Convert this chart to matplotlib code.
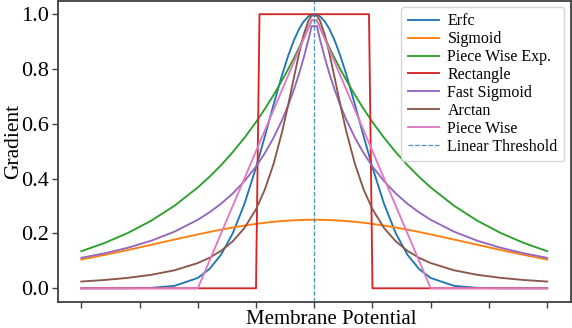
import matplotlib
matplotlib.use("Agg")
import matplotlib.pyplot as plt

plt.rcParams['font.family'] = 'serif'
plt.rcParams['font.serif'] = ['Liberation Serif', 'DejaVu Serif']

# shared sample positions for the smooth curves
x_grid = [-4.0, -3.6, -3.2, -2.8, -2.4, -2.0, -1.8, -1.6, -1.4, -1.2,
          -1.0, -0.85, -0.7, -0.55, -0.45, -0.35, -0.26, -0.18, -0.1, -0.045,
          0.045, 0.1, 0.18, 0.26, 0.35, 0.45, 0.55, 0.7, 0.85, 1.0,
          1.2, 1.4, 1.6, 1.8, 2.0, 2.4, 2.8, 3.2, 3.6, 4.0]

erfc = [0.0000, 0.0000, 0.0002, 0.0016, 0.0089, 0.0376, 0.0702, 0.1226, 0.2005, 0.3070,
        0.4404, 0.5530, 0.6691, 0.7803, 0.8470, 0.9044, 0.9461, 0.9738, 0.9918, 0.9983,
        0.9983, 0.9918, 0.9738, 0.9461, 0.9044, 0.8470, 0.7803, 0.6691, 0.5530, 0.4404,
        0.3070, 0.2005, 0.1226, 0.0702, 0.0376, 0.0089, 0.0016, 0.0002, 0.0000, 0.0000]

sigmoid = [0.1050, 0.1218, 0.1398, 0.1587, 0.1779, 0.1966, 0.2055, 0.2139, 0.2217, 0.2288,
           0.2350, 0.2390, 0.2425, 0.2453, 0.2469, 0.2481, 0.2489, 0.2495, 0.2498, 0.2500,
           0.2500, 0.2498, 0.2495, 0.2489, 0.2481, 0.2469, 0.2453, 0.2425, 0.2390, 0.2350,
           0.2288, 0.2217, 0.2139, 0.2055, 0.1966, 0.1779, 0.1587, 0.1398, 0.1218, 0.1050]

piecewise_exp = [0.1353, 0.1653, 0.2019, 0.2466, 0.3012, 0.3679, 0.4066, 0.4493, 0.4966, 0.5488,
                 0.6065, 0.6538, 0.7047, 0.7596, 0.7985, 0.8395, 0.8781, 0.9139, 0.9512, 0.9778,
                 0.9778, 0.9512, 0.9139, 0.8781, 0.8395, 0.7985, 0.7596, 0.7047, 0.6538, 0.6065,
                 0.5488, 0.4966, 0.4493, 0.4066, 0.3679, 0.3012, 0.2466, 0.2019, 0.1653, 0.1353]

fast_sigmoid = [0.1111, 0.1276, 0.1479, 0.1736, 0.2066, 0.2500, 0.2770, 0.3086, 0.3460, 0.3906,
                0.4444, 0.4925, 0.5487, 0.6151, 0.6664, 0.7243, 0.7831, 0.8417, 0.9070, 0.9565,
                0.9565, 0.9070, 0.8417, 0.7831, 0.7243, 0.6664, 0.6151, 0.5487, 0.4925, 0.4444,
                0.3906, 0.3460, 0.3086, 0.2770, 0.2500, 0.2066, 0.1736, 0.1479, 0.1276, 0.1111]

arctan = [0.0247, 0.0303, 0.0381, 0.0492, 0.0657, 0.0920, 0.1112, 0.1367, 0.1713, 0.2196,
          0.2884, 0.3594, 0.4527, 0.5726, 0.6668, 0.7679, 0.8571, 0.9260, 0.9759, 0.9950,
          0.9950, 0.9759, 0.9260, 0.8571, 0.7679, 0.6668, 0.5726, 0.4527, 0.3594, 0.2884,
          0.2196, 0.1713, 0.1367, 0.1112, 0.0920, 0.0657, 0.0492, 0.0381, 0.0303, 0.0247]

# piecewise-linear curves: only their corner points
rect_x = [-4.0, -1.0, -0.94, 0.94, 1.0, 4.0]
rect_y = [0.0, 0.0, 1.0, 1.0, 0.0, 0.0]

pw_x = [-4.0, -2.0, -0.045, 0.045, 2.0, 4.0]
pw_y = [0.0, 0.0, 0.978, 0.978, 0.0, 0.0]

threshold = 0.0
x_ticks = [-4, -3, -2, -1, 0, 1, 2, 3, 4]
y_ticks = [0.0, 0.2, 0.4, 0.6, 0.8, 1.0]

W, H = 572, 328
fig = plt.figure(figsize=(W / 100, H / 100), dpi=100)
ax = fig.add_axes([58 / W, (H - 302) / H, (570.5 - 58) / W, (302 - 0.5) / H])

lw = 1.35
ax.plot(x_grid, erfc, color='C0', lw=lw, label='Erfc')
ax.plot(x_grid, sigmoid, color='C1', lw=lw, label='Sigmoid')
ax.plot(x_grid, piecewise_exp, color='C2', lw=lw, label='Piece Wise Exp.')
ax.plot(rect_x, rect_y, color='C3', lw=lw, label='Rectangle')
ax.plot(x_grid, fast_sigmoid, color='C4', lw=lw, label='Fast Sigmoid')
ax.plot(x_grid, arctan, color='C5', lw=lw, label='Arctan')
ax.plot(pw_x, pw_y, color='C6', lw=lw, label='Piece Wise')
ax.axvline(threshold, color='C0', ls='--', lw=0.9, alpha=0.8, label='Linear Threshold')

ax.set_xticks(x_ticks)
ax.set_xticklabels([])
ax.set_yticks(y_ticks)
ax.set_yticklabels([f'{v:.1f}' for v in y_ticks])
ax.tick_params(labelsize=16, color='#404040', width=1.0, length=4.5, pad=2)
for s in ax.spines.values():
    s.set_color('#404040')
    s.set_linewidth(1.3)

ax.set_xlabel('Membrane Potential', fontsize=15)
ax.xaxis.set_label_coords(0.533, -0.028)
ax.set_ylabel('Gradient', fontsize=15.5)
ax.yaxis.set_label_coords(-0.069, 0.532)

ax.legend(loc='upper right', fontsize=11.5, labelspacing=0.12, handletextpad=0.5,
          borderaxespad=0.4, handlelength=2.0)

fig.savefig('out.png', dpi=100)
